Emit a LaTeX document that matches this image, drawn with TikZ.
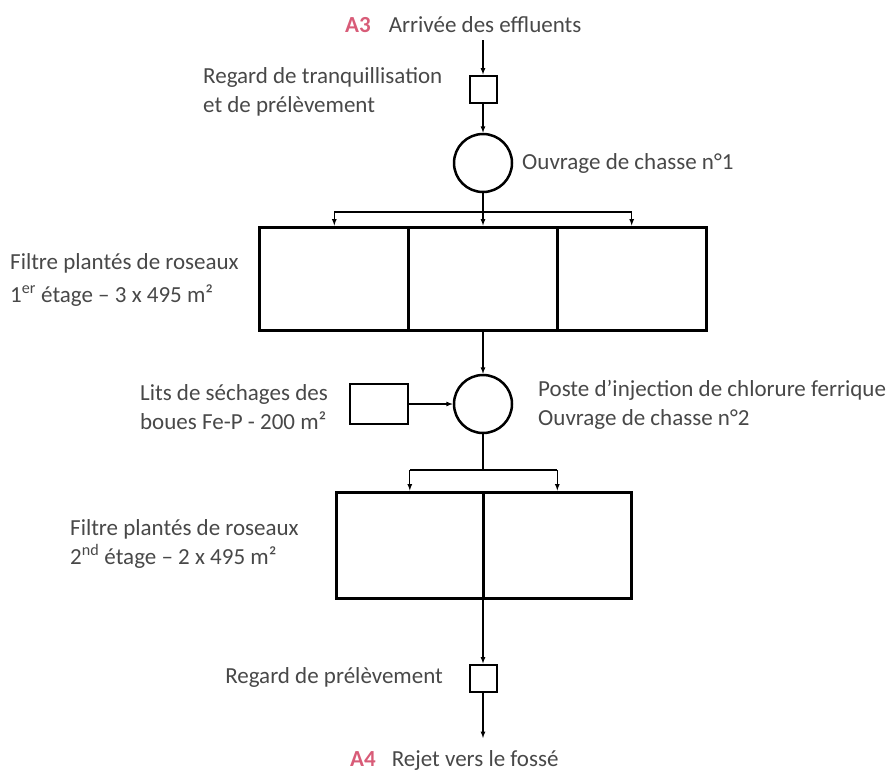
\documentclass[tikz,border=0pt]{standalone}
\usepackage{fontspec}
\setmainfont{Carlito}
\usetikzlibrary{arrows,positioning}
\definecolor{txtgrey}{RGB}{72,72,72}
\definecolor{apink}{RGB}{216,92,120}

\begin{document}
\begin{tikzpicture}[x=1pt,y=-1pt,>=latex,
  lbl/.style={text=txtgrey,font=\fontsize{23}{29}\selectfont,inner sep=0pt,align=left},
  regard/.style={draw,line width=2pt,minimum size=27pt,inner sep=0pt},
  ouvrage/.style={draw,circle,line width=2.5pt,minimum size=58pt,inner sep=0pt},
  bassin/.style={draw,line width=3pt,inner sep=0pt},
  flux/.style={->,line width=1.2pt}]
\useasboundingbox (0,0) rectangle (891,774);
% ouvrages
\node[regard] (rg1) at (483,89) {};
\node[ouvrage] (oc1) at (483,163) {};
\node[bassin,minimum width=148.7pt,minimum height=103pt] (fa) at (334.3,278.5) {};
\node[bassin,minimum width=148.7pt,minimum height=103pt] (fb) at (483,278.5) {};
\node[bassin,minimum width=148.7pt,minimum height=103pt] (fc) at (631.7,278.5) {};
\node[ouvrage] (oc2) at (483,404) {};
\node[bassin,line width=2.5pt,minimum width=58pt,minimum height=40pt] (lits) at (379,404) {};
\node[bassin,minimum width=147.5pt,minimum height=106pt] (fd) at (409.8,545) {};
\node[bassin,minimum width=147.5pt,minimum height=106pt] (fe) at (557.3,545) {};
\node[regard] (rg2) at (483,678) {};
\coordinate (entree) at (483,40);
\coordinate (rejet) at (483,738);
\coordinate (rep1) at (483,212);
\coordinate (rep2) at (483,470);
% textes
\node[lbl,anchor=west] (t-arrivee) at (345,25) {{\color{apink}\bfseries A3}\hspace{18pt}Arrivée des effluents};
\node[lbl,anchor=west] (t-rg1) at (203,92) {Regard de tranquillisation\\et de prélèvement};
\node[lbl,anchor=west] (t-oc1) at (522,163) {Ouvrage de chasse n°1};
\node[lbl,anchor=west,font=\fontsize{23}{33}\selectfont] (t-f1) at (10,280) {Filtre plantés de roseaux\\1\textsuperscript{er} étage -- 3 x 495 m²};
\node[lbl,anchor=east] (t-lits) at (328,407) {Lits de séchages des\\boues Fe-P - 200 m²};
\node[lbl,anchor=west] (t-oc2) at (538,405) {Poste d’injection de chlorure ferrique\\Ouvrage de chasse n°2};
\node[lbl,anchor=west] (t-f2) at (70,544) {Filtre plantés de roseaux\\2\textsuperscript{nd} étage -- 2 x 495 m²};
\node[lbl,anchor=east] (t-rg2) at (443,677) {Regard de prélèvement};
\node[lbl,anchor=west] (t-rejet) at (350,760) {{\color{apink}\bfseries A4}\hspace{16pt}Rejet vers le fossé};
% liaisons
\draw[flux] (entree) -- (rg1);
\draw[flux] (rg1) -- (oc1);
\draw[flux] (oc1) -- (fb);
\draw[flux] (rep1 -| fa) -- (fa);
\draw[flux] (rep1 -| fc) -- (fc);
\draw[line width=1.2pt] (rep1 -| fa) -- (rep1 -| fc);
\draw[flux] (fb) -- (oc2);
\draw[flux] (lits) -- (oc2);
\draw[line width=1.2pt] (oc2) -- (rep2);
\draw[line width=1.2pt] (rep2 -| fd) -- (rep2 -| fe);
\draw[flux] (rep2 -| fd) -- (fd);
\draw[flux] (rep2 -| fe) -- (fe);
\draw[flux] (fd.south east -| rg2) -- (rg2);
\draw[flux] (rg2) -- (rejet);
\end{tikzpicture}
\end{document}
